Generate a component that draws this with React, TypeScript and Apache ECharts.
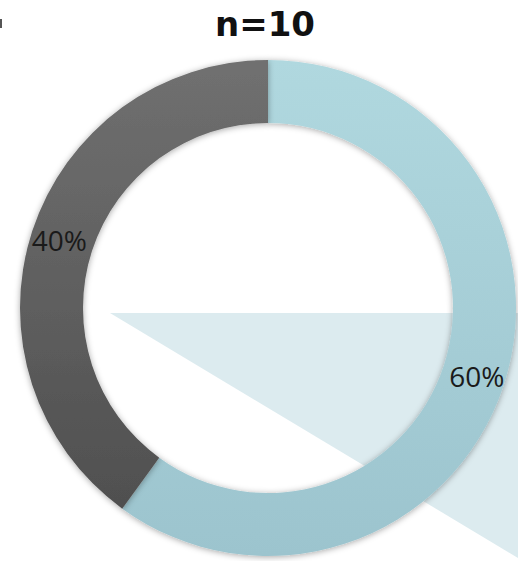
import React, { useEffect, useRef } from "react";
import * as echarts from "echarts";

const title = "n=10";
const categories = ["Category 1", "Category 2"];
const counts = [6, 4];
const colorsTop = ["#b0d8df", "#707070"];
const colorsBottom = ["#9cc4ce", "#4c4c4c"];

export default function App() {
  const ref = useRef<HTMLDivElement>(null);
  useEffect(() => {
    document.body.style.margin = "0";
    if (!ref.current) return;
    const chart = echarts.init(ref.current, null, { renderer: "svg" });
    const grad = (i: number) => ({
      type: "linear",
      x: 0,
      y: 60,
      x2: 0,
      y2: 556,
      global: true,
      colorStops: [
        { offset: 0, color: colorsTop[i] },
        { offset: 1, color: colorsBottom[i] },
      ],
    });
    chart.setOption({
      animation: false,
      backgroundColor: "#ffffff",
      graphic: [
        {
          type: "polygon",
          z: 0,
          shape: { points: [[110, 313], [518, 313], [518, 558]] },
          style: { fill: "#dcebef" },
        },
        {
          type: "rect",
          z: 0,
          shape: { x: 0, y: 19, width: 2, height: 9 },
          style: { fill: "#555555" },
        },
        {
          type: "text",
          z: 10,
          x: 265,
          y: 24,
          style: {
            text: title,
            fontFamily: "DejaVu Sans",
            fontWeight: "bold",
            fontSize: 34,
            fill: "#111111",
            align: "center",
            verticalAlign: "middle",
          },
        },
      ],
      series: [
        {
          type: "pie",
          z: 2,
          center: [268, 308],
          radius: [185, 248],
          startAngle: 90,
          clockwise: true,
          avoidLabelOverlap: false,
          label: {
            show: true,
            position: "inside",
            formatter: "{d}%",
            fontFamily: "Open Sans",
            fontSize: 28,
            color: "#1a1a1a",
          },
          labelLine: { show: false },
          emphasis: { disabled: true },
          itemStyle: {
            shadowBlur: 6,
            shadowColor: "rgba(0,0,0,0.35)",
            shadowOffsetX: 0,
            shadowOffsetY: 1,
          },
          data: categories.map((name, i) => ({
            name,
            value: counts[i],
            itemStyle: { color: grad(i) },
          })),
        },
      ],
    });
    return () => chart.dispose();
  }, []);
  return <div ref={ref} style={{ width: 518, height: 561 }} />;
}
